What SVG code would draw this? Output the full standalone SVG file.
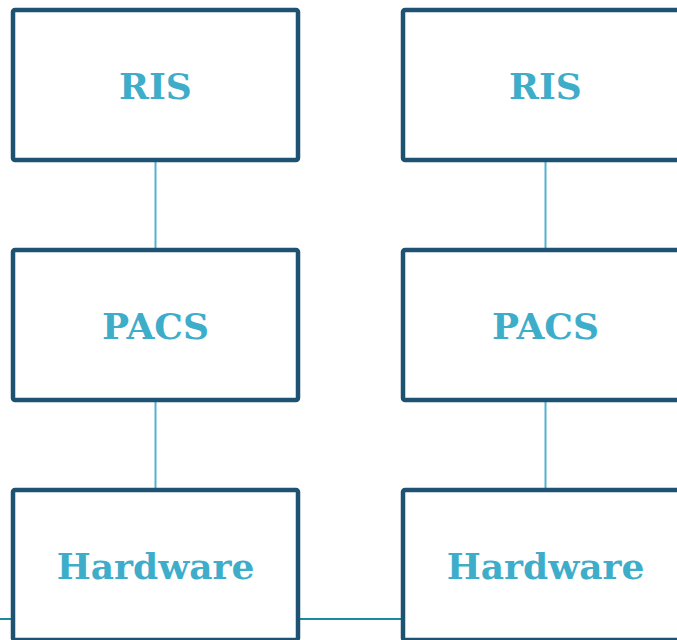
<svg xmlns="http://www.w3.org/2000/svg" width="677" height="640" viewBox="0 0 677 640">
<style>
.box{fill:#ffffff;stroke:#1d5272;stroke-width:4.5}
.lbl{font-family:"DejaVu Serif","Liberation Serif",serif;font-weight:bold;font-size:36px;fill:#3eadca;text-anchor:middle}
.conn{stroke:#4fb3d0;stroke-width:2;fill:none}
.bus{stroke:#1a8b9e;stroke-width:2;fill:none}
</style>
<rect width="677" height="640" fill="#ffffff"/>
<g id="connectors">
<line class="conn" x1="155.5" y1="160" x2="155.5" y2="250"/>
<line class="conn" x1="155.5" y1="400" x2="155.5" y2="490"/>
<line class="conn" x1="545.5" y1="160" x2="545.5" y2="250"/>
<line class="conn" x1="545.5" y1="400" x2="545.5" y2="490"/>
<line class="bus" x1="0" y1="619" x2="13" y2="619"/>
<line class="bus" x1="298" y1="619" x2="403" y2="619"/>
</g>
<g id="ris1"><rect class="box" x="13" y="10" width="285" height="150" rx="2"/><text class="lbl" x="155.5" y="98.5">RIS</text></g>
<g id="pacs1"><rect class="box" x="13" y="250" width="285" height="150" rx="2"/><text class="lbl" x="155.5" y="338.5">PACS</text></g>
<g id="hw1"><rect class="box" x="13" y="490" width="285" height="150" rx="2"/><text class="lbl" x="155.5" y="578.5">Hardware</text></g>
<g id="ris2"><rect class="box" x="403" y="10" width="285" height="150" rx="2"/><text class="lbl" x="545.5" y="98.5">RIS</text></g>
<g id="pacs2"><rect class="box" x="403" y="250" width="285" height="150" rx="2"/><text class="lbl" x="545.5" y="338.5">PACS</text></g>
<g id="hw2"><rect class="box" x="403" y="490" width="285" height="150" rx="2"/><text class="lbl" x="545.5" y="578.5">Hardware</text></g>
</svg>
